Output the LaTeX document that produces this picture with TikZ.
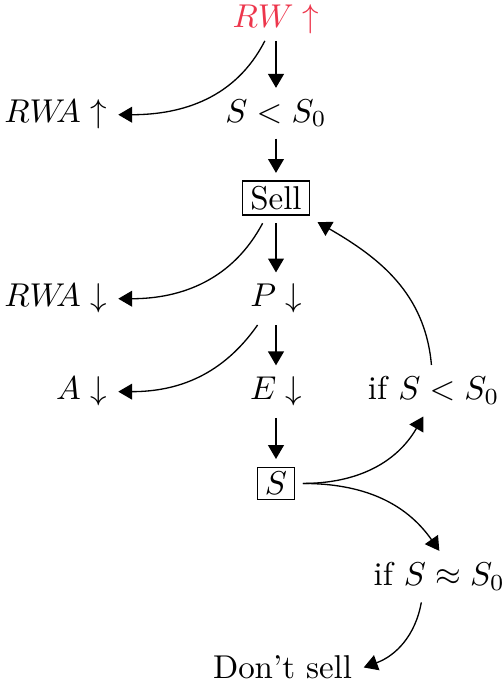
\documentclass[tikz,border=0pt]{standalone}
\usepackage{amsmath,amssymb}
\usetikzlibrary{arrows.meta, positioning}
\definecolor{rwred}{RGB}{237,54,76}

\begin{document}
\begin{tikzpicture}[
    % GLOBAL CFG
    >={Triangle[length=4.2pt,width=4.8pt]},
    % Styles
    txt/.style={% plain labels, set on their baseline
        anchor=base,
        inner sep=3.33pt,
        },
    lefttxt/.style={% labels of the left column
        anchor=base east,
        },
    boxed/.style={% For the framed labels
        anchor=base,
        draw,
        inner xsep=2.3pt,
        inner ysep=1.5pt,
        outer sep=2.5pt,
        },
    ]

    % Fix the frame of the page
    \useasboundingbox (0,0) rectangle (5.368,-7.329);

    % Middle column
    \node [txt, text=rwred, inner ysep=2pt] (RW) at (2.94,-0.29) {$RW\uparrow$};
    \node [txt] (SS0) at (2.94,-1.30) {$S<S_0$};
    \node [boxed] (Sell) at (2.94,-2.23) {Sell};
    \node [txt] (P) at (2.94,-3.27) {$P\downarrow$};
    \node [txt] (E) at (2.94,-4.26) {$E\downarrow$};
    \node [boxed] (S) at (2.94,-5.27) {$S$};
    \node [txt] (dont) at (3.01,-7.23) {Don't sell};

    % Left column
    \node [txt, lefttxt] (RWAup) at (1.26,-1.31) {$RW\mkern-5mu A\uparrow$};
    \node [txt, lefttxt] (RWAdown) at (1.26,-3.27) {$RW\mkern-5mu A\downarrow$};
    \node [txt, lefttxt] (A) at (1.26,-4.26) {$A\downarrow$};

    % Right column
    \node [txt] (ifless) at (4.62,-4.26) {if $S<S_0$};
    \node [txt] (ifapprox) at (4.68,-6.24) {if $S\approx S_0$};

    % Straight arrows
    \draw [->] (RW) -- (SS0);
    \draw [->] (SS0) -- (Sell);
    \draw [->] (Sell) -- (P);
    \draw [->] (P) -- (E);
    \draw [->] (E) -- (S);

    % Bent arrows
    \draw [->] (RW) to[out=-117, in=0] (RWAup);
    \draw [->] (Sell) to[out=-118, in=0] (RWAdown);
    \draw [->] (P) to[out=-125, in=0] (A);
    \draw [->] (ifless) to[out=95, in=-30] (Sell);
    \draw [->] (S) to[out=0, in=-120] (ifless.-112);
    \draw [->] (S) to[out=0, in=125] (ifapprox.north);
    \draw [->] (ifapprox.-125) to[out=-100, in=20] (dont.east);
\end{tikzpicture}
\end{document}
